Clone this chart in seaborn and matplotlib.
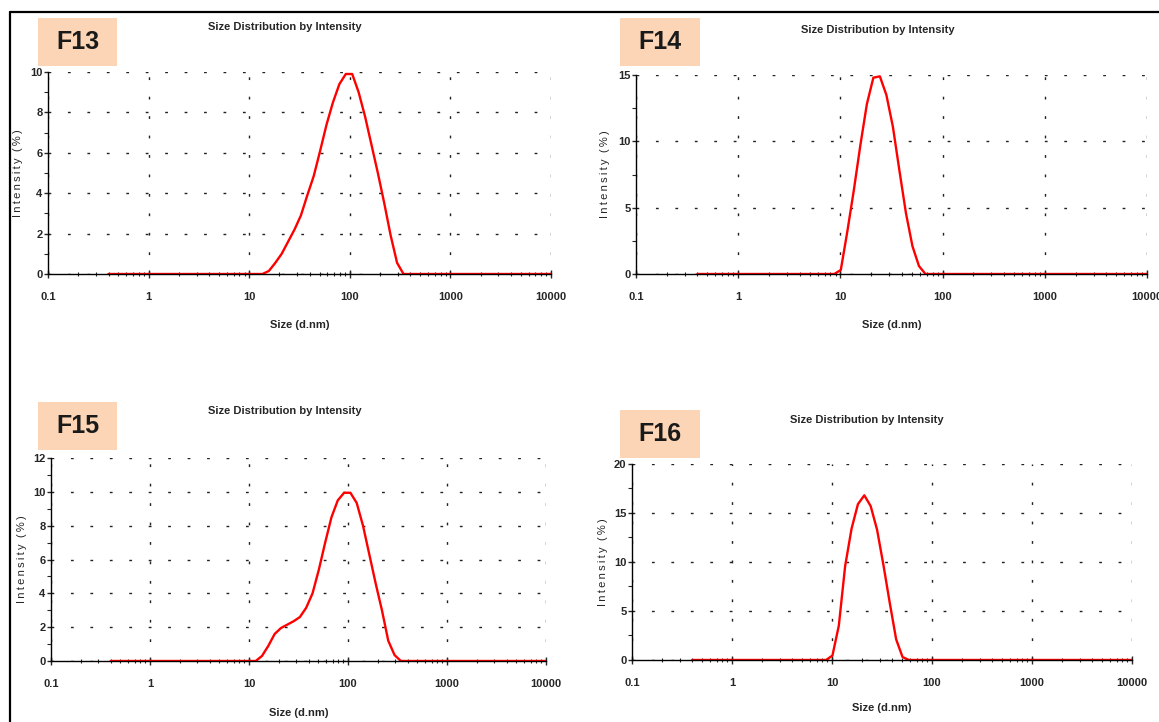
import pandas as pd
import seaborn as sns
import matplotlib
matplotlib.use("Agg")
from matplotlib import pyplot as plt
from matplotlib.lines import Line2D
from matplotlib.patches import Rectangle
from matplotlib.ticker import LogLocator, FixedLocator, MultipleLocator, NullFormatter

# size bins (d.nm) and intensity (%)
f13_size = [0.4, 13.54, 15.69, 18.17, 21.04, 24.36, 28.21, 32.67, 37.84, 43.82, 50.75,
            58.77, 68.06, 78.82, 91.28, 105.7, 122.4, 141.8, 164.2, 190.1, 220.2,
            255.0, 295.3, 342.0, 10000]
f13_intensity = [0, 0, 0.15, 0.55, 1.0, 1.6, 2.2, 2.9, 3.9, 4.85, 6.1,
                 7.4, 8.5, 9.4, 9.9, 9.9, 9.0, 7.8, 6.4, 5.0, 3.5,
                 1.9, 0.55, 0, 0]

f14_size = [0.4, 8.721, 10.10, 11.70, 13.54, 15.69, 18.17, 21.04, 24.36, 28.21,
            32.67, 37.84, 43.82, 50.75, 58.77, 68.06, 10000]
f14_intensity = [0, 0, 0.3, 3.2, 6.3, 9.7, 12.8, 14.8, 14.9, 13.5,
                 11.1, 7.8, 4.6, 2.1, 0.6, 0, 0]

f15_size = [0.4, 11.70, 13.54, 15.69, 18.17, 21.04, 24.36, 28.21, 32.67, 37.84,
            43.82, 50.75, 58.77, 68.06, 78.82, 91.28, 105.7, 122.4, 141.8, 164.2,
            190.1, 220.2, 255.0, 295.3, 342.0, 10000]
f15_intensity = [0, 0, 0.3, 0.9, 1.6, 1.95, 2.15, 2.35, 2.6, 3.15,
                 4.0, 5.4, 7.0, 8.5, 9.5, 9.95, 9.95, 9.35, 8.0, 6.3,
                 4.6, 3.0, 1.2, 0.35, 0, 0]

f16_size = [0.4, 8.721, 10.10, 11.70, 13.54, 15.69, 18.17, 21.04, 24.36, 28.21,
            32.67, 37.84, 43.82, 50.75, 58.77, 10000]
f16_intensity = [0, 0, 0.45, 3.5, 9.6, 13.4, 15.9, 16.8, 15.7, 13.3,
                 9.7, 5.8, 2.1, 0.3, 0, 0]

x_ticks = [0.1, 1, 10, 100, 1000, 10000]
x_tick_labels = ["0.1", "1", "10", "100", "1000", "10000"]

panels = [
    # name, sizes, intensities, ymax, ystep, axes rect, label box (px), title pos, ylabel x, xlabel y
    ("F13", f13_size, f13_intensity, 10, 2, [0.0414, 0.6205, 0.434, 0.2798], (38, 18, 79, 48), (0.471, 1.223), -0.050, -0.23),
    ("F14", f14_size, f14_intensity, 15, 5, [0.5487, 0.6205, 0.4409, 0.2756], (620, 18, 80, 48), (0.474, 1.226), -0.051, -0.23),
    ("F15", f15_size, f15_intensity, 12, 2, [0.0440, 0.0845, 0.4271, 0.2810], (38, 402, 79, 48), (0.473, 1.231), -0.049, -0.23),
    ("F16", f16_size, f16_intensity, 20, 5, [0.5453, 0.0859, 0.4314, 0.2715], (620, 410, 80, 48), (0.470, 1.224), -0.048, -0.22),
]

sns.set_style("white")
plt.rcParams["font.family"] = ["Liberation Sans Narrow", "Liberation Sans", "DejaVu Sans"]

W, H = 1159, 722
fig = plt.figure(figsize=(W / 100, H / 100), dpi=100)

# outer frame lines (top and left)
fig.add_artist(Line2D([10 / W, 1], [1 - 12 / H, 1 - 12 / H], color="black", lw=1.6, transform=fig.transFigure))
fig.add_artist(Line2D([10 / W, 10 / W], [0, 1 - 12 / H], color="black", lw=1.6, transform=fig.transFigure))

grid_style = dict(color="#222222", linestyle=(0, (2, 12)), linewidth=1.0)
ylabel_text = "I\u2009n\u2009t\u2009e\u2009n\u2009s\u2009i\u2009t\u2009y  (\u2009%\u2009)"

for name, sizes, vals, ymax, ystep, rect, box, tpos, ylab_x, xlab_y in panels:
    ax = fig.add_axes(rect)
    df = pd.DataFrame({"Size": sizes, "Intensity": vals})
    sns.lineplot(data=df, x="Size", y="Intensity", color="#ff0000", linewidth=1.7, ax=ax)

    ax.set_xscale("log")
    ax.set_xlim(0.1, 10000)
    ax.set_ylim(0, ymax)

    ax.xaxis.set_major_locator(FixedLocator(x_ticks))
    ax.set_xticklabels(x_tick_labels)
    ax.xaxis.set_minor_locator(LogLocator(base=10, subs=range(2, 10)))
    ax.xaxis.set_minor_formatter(NullFormatter())
    ax.yaxis.set_major_locator(MultipleLocator(ystep))
    ax.yaxis.set_minor_locator(MultipleLocator(ystep / 2))

    for s in ["top", "right"]:
        ax.spines[s].set_visible(False)
    for s in ["left", "bottom"]:
        ax.spines[s].set_color("black")
        ax.spines[s].set_linewidth(1.0)

    ax.tick_params(axis="x", which="major", direction="inout", length=6, width=1, pad=10,
                   labelsize=8, bottom=True)
    ax.tick_params(axis="x", which="minor", direction="inout", length=3, width=0.8, bottom=True)
    ax.tick_params(axis="y", which="major", direction="out", length=3, width=1, pad=1,
                   labelsize=8, left=True)
    ax.tick_params(axis="y", which="minor", direction="out", length=3, width=0.8, left=True)
    for lab in ax.get_xticklabels() + ax.get_yticklabels():
        lab.set_fontweight("bold")

    ax.grid(True, which="major", **grid_style)
    ax.set_axisbelow(True)

    ax.set_xlabel("Size (d.nm)", fontsize=8, fontweight="bold")
    ax.set_ylabel(ylabel_text, fontsize=8)
    ax.xaxis.set_label_coords(0.5, xlab_y)
    ax.yaxis.set_label_coords(ylab_x, 0.5)

    ax.text(tpos[0], tpos[1], "Size Distribution by Intensity", transform=ax.transAxes,
            ha="center", va="center", fontsize=8, fontweight="bold")

    # peach label box
    bx, by, bw, bh = box
    fig.add_artist(Rectangle((bx / W, 1 - (by + bh) / H), bw / W, bh / H,
                             transform=fig.transFigure, facecolor="#fbd5b5", edgecolor="none"))
    fig.text((bx + bw / 2) / W, 1 - (by + bh / 2) / H, name, ha="center", va="center",
             fontsize=18, fontweight="bold", color="#1a1a1a", family=["Liberation Sans", "DejaVu Sans"])

fig.savefig("out.png", dpi=100)
